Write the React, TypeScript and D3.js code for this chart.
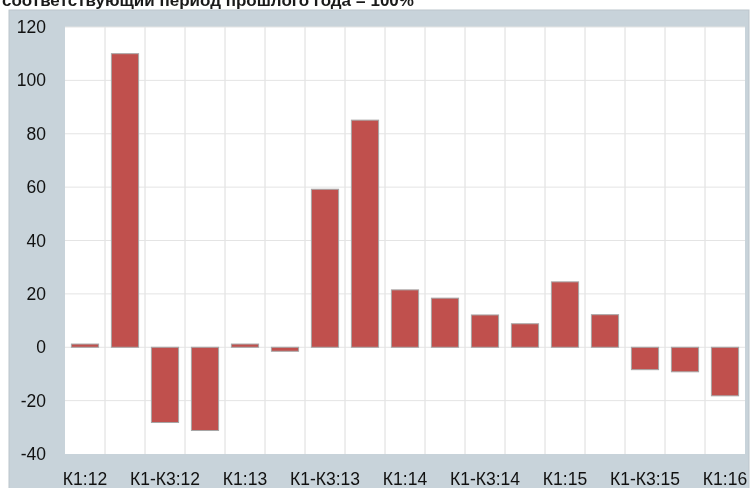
import React, { useRef, useEffect } from "react";
import * as d3 from "d3";

const categories = [
  "К1:12", "К1-К2:12", "К1-К3:12", "К1-К4:12",
  "К1:13", "К1-К2:13", "К1-К3:13", "К1-К4:13",
  "К1:14", "К1-К2:14", "К1-К3:14", "К1-К4:14",
  "К1:15", "К1-К2:15", "К1-К3:15", "К1-К4:15",
  "К1:16",
];
const values = [1.2, 110, -28.2, -31.2, 1.2, -1.5, 59.2, 85.1, 21.5, 18.4, 12.1, 8.8, 24.5, 12.2, -8.4, -9.2, -18.2];
const yTicks = [-40, -20, 0, 20, 40, 60, 80, 100, 120];
const title = "соответствующий период прошлого года = 100%";

const W = 750;
const H = 488;

export default function App() {
  const svgRef = useRef<SVGSVGElement>(null);

  useEffect(() => {
    if (!svgRef.current) return;
    const svg = d3.select(svgRef.current);
    svg.selectAll("*").remove();

    const left = 65, right = 745, top = 27, bottom = 454;

    // outer panel
    svg.append("rect").attr("x", 9).attr("y", 10).attr("width", 740).attr("height", 480)
      .attr("fill", "#c8d3da").attr("stroke", "#bcc5cc");

    // title (cut off at top, as in the source image)
    svg.append("text").attr("x", 2).attr("y", 6)
      .attr("font-family", "Liberation Sans, Arial, sans-serif")
      .attr("font-weight", "bold").attr("font-size", 17).attr("fill", "#1a1a1a")
      .text(title);

    svg.append("rect").attr("x", left).attr("y", top).attr("width", right - left).attr("height", bottom - top)
      .attr("fill", "#fff");

    const x = d3.scaleBand().domain(categories).range([left, right]).paddingInner(0.32).paddingOuter(0.16);
    const xs = d3.scaleBand().domain(categories).range([left, right]);
    const y = d3.scaleLinear().domain([-40, 120]).range([bottom, top]);

    // vertical gridlines
    svg.append("g").selectAll("line").data(categories.slice(1)).enter().append("line")
      .attr("x1", (d) => xs(d)!).attr("x2", (d) => xs(d)!)
      .attr("y1", top).attr("y2", bottom).attr("stroke", "#dcdcdc").attr("stroke-width", 1);
    // horizontal gridlines
    svg.append("g").selectAll("line").data(yTicks.filter((t) => t !== -40)).enter().append("line")
      .attr("x1", left).attr("x2", right).attr("y1", (d) => y(d)).attr("y2", (d) => y(d))
      .attr("stroke", "#e4e4e4").attr("stroke-width", 1);

    svg.append("g").selectAll("rect").data(values).enter().append("rect")
      .attr("x", (_, i) => x(categories[i])!)
      .attr("width", x.bandwidth())
      .attr("y", (d) => y(Math.max(0, d)))
      .attr("height", (d) => Math.abs(y(d) - y(0)))
      .attr("fill", "#c0504d").attr("stroke", "#a6a6a6").attr("stroke-width", 1);

    const font = "Liberation Sans, Arial, sans-serif";
    svg.append("g").selectAll("text").data(yTicks).enter().append("text")
      .attr("x", 46).attr("y", (d) => y(d) + 6)
      .attr("text-anchor", "end").attr("font-family", font).attr("font-size", 17.5).attr("fill", "#111")
      .text((d) => d);

    svg.append("g").selectAll("text").data(categories.filter((_, i) => i % 2 === 0)).enter().append("text")
      .attr("x", (d) => xs(d)! + xs.bandwidth() / 2).attr("y", 485)
      .attr("text-anchor", "middle").attr("font-family", font).attr("font-size", 17.5).attr("fill", "#111")
      .text((d) => d);
  }, []);

  return (
    <div style={{ position: "fixed", left: 0, top: 0 }}>
      <svg ref={svgRef} width={W} height={H}></svg>
    </div>
  );
}
